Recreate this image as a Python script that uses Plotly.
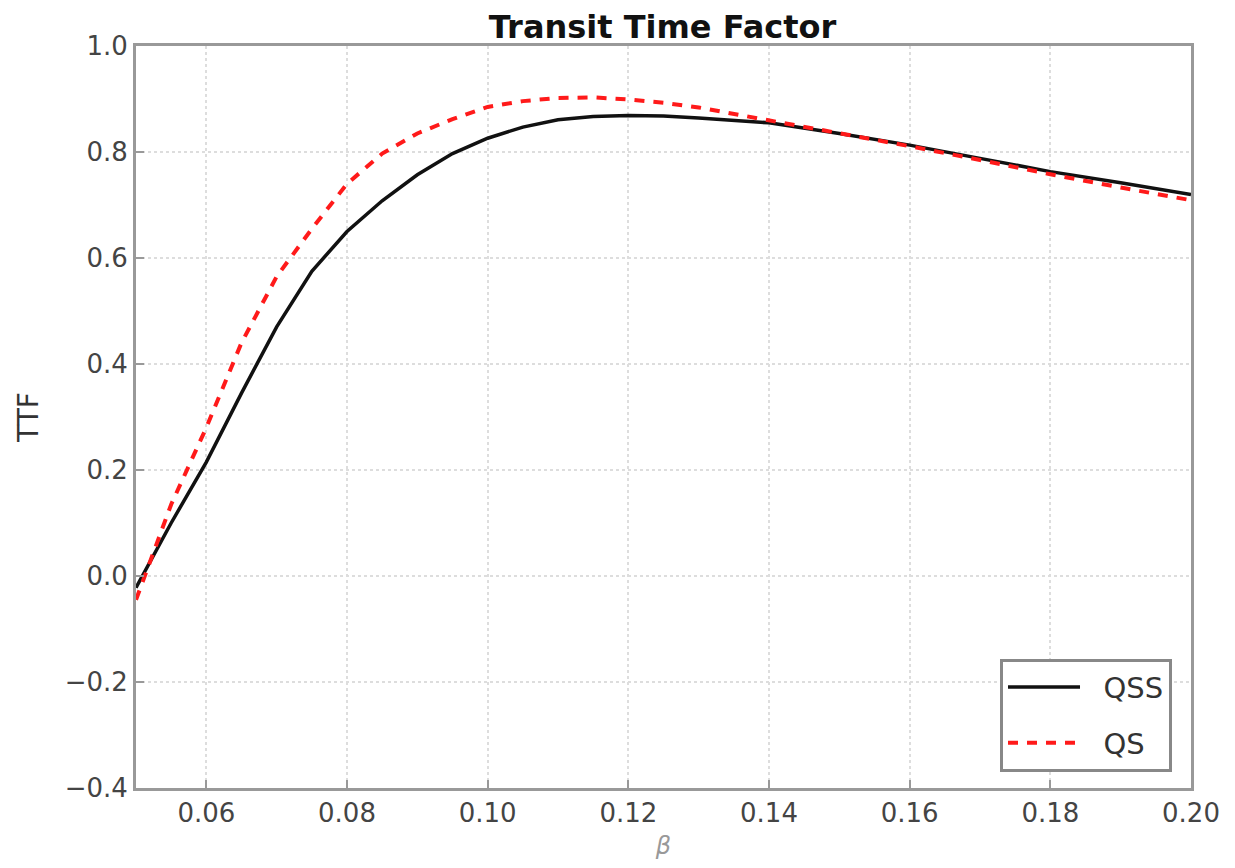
import plotly.graph_objects as go

beta = [0.050, 0.055, 0.060, 0.065, 0.070, 0.075, 0.080, 0.085, 0.090, 0.095,
        0.100, 0.105, 0.110, 0.115, 0.120, 0.125, 0.130, 0.140, 0.150, 0.160,
        0.170, 0.180, 0.190, 0.200]
ttf_qss = [-0.022, 0.100, 0.215, 0.345, 0.470, 0.575, 0.650, 0.708, 0.757, 0.797,
           0.826, 0.847, 0.861, 0.867, 0.869, 0.868, 0.864, 0.855, 0.835, 0.813,
           0.788, 0.763, 0.742, 0.720]
ttf_qs = [-0.045, 0.135, 0.280, 0.440, 0.565, 0.655, 0.740, 0.797, 0.835, 0.862,
          0.885, 0.896, 0.902, 0.903, 0.899, 0.893, 0.884, 0.860, 0.836, 0.811,
          0.785, 0.758, 0.733, 0.709]

x_ticks = [0.06, 0.08, 0.10, 0.12, 0.14, 0.16, 0.18, 0.20]
y_ticks = [-0.4, -0.2, 0.0, 0.2, 0.4, 0.6, 0.8, 1.0]

NB = "\u00a0\u00a0"

fig = go.Figure()
fig.add_trace(go.Scatter(x=beta, y=ttf_qss, mode="lines", name=NB + "QSS",
                         legendgroup="a",
                         line=dict(color="#111111", width=3.5)))
fig.add_trace(go.Scatter(x=beta, y=ttf_qs, mode="lines", name=NB + "QS",
                         legendgroup="b",
                         line=dict(color="#ff1a1a", width=4, dash="10px,9px")))

axis_common = dict(
    showline=True, linecolor="#999999", linewidth=3, mirror=True,
    ticks="inside", ticklen=8, tickwidth=2, tickcolor="#999999",
    showgrid=True, gridcolor="#dddddd", gridwidth=2, griddash="dot",
    zeroline=False,
    tickfont=dict(family="DejaVu Sans", size=26, color="#444444"),
)

fig.update_xaxes(range=[0.05, 0.20], tickvals=x_ticks, tickformat=".2f",
                 title=dict(text="β", font=dict(family="DejaVu Sans", size=24,
                                                 color="#999999", style="italic"),
                            standoff=10),
                 **axis_common)
fig.update_yaxes(range=[-0.4, 1.0], tickvals=y_ticks, tickformat=".1f",
                 title=dict(text="TTF", font=dict(family="DejaVu Sans", size=28,
                                                   color="#333333"),
                            standoff=18),
                 **axis_common)

fig.update_layout(
    width=1235, height=868,
    margin=dict(l=128, r=52, t=38, b=88),
    paper_bgcolor="white", plot_bgcolor="white",
    title=dict(text="<b>Transit Time Factor</b>", x=0.53, xanchor="center",
               y=0.978, yanchor="middle",
               font=dict(family="DejaVu Sans", size=32, color="#111111")),
    legend=dict(x=0.982, y=0.022, xanchor="right", yanchor="bottom",
                bordercolor="#888888", borderwidth=3, bgcolor="white",
                font=dict(family="DejaVu Sans", size=29, color="#333333"),
                itemwidth=72, tracegroupgap=15),
    showlegend=True,
)

fig.write_html("out.html")
